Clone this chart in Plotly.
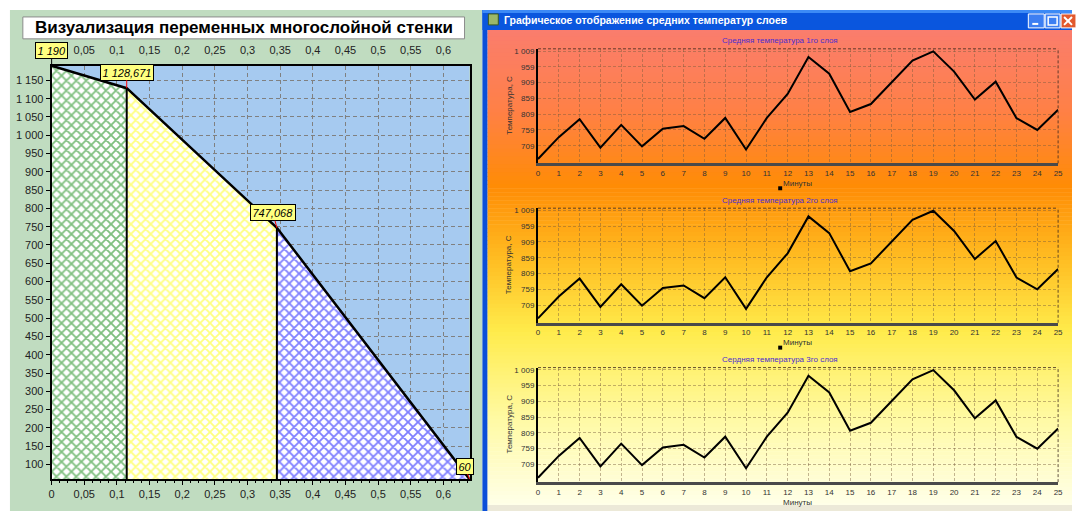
import plotly.graph_objects as go

W, H = 1077, 511


def fx(p):
    return p / W


def fy(p):
    return 1 - p / H


# ---- wall temperature profile ----
layer_bounds = [0.0, 0.115, 0.345, 0.64]
wall_temps = [1190, 1128.671, 747.068, 60]
wall_labels = ["1 190", "1 128,671", "747,068", "60"]
layer_hatch = ["#008000", "#FFFF00", "#0000FF"]
top_ticks = [0.05, 0.1, 0.15, 0.2, 0.25, 0.3, 0.35, 0.4, 0.45, 0.5, 0.55, 0.6]

# ---- average layer temperatures over time ----
minutes = list(range(26))
avg_temp_layer1 = [667, 736, 793, 703, 775, 707, 763, 771, 731, 797, 697, 797,
                   873, 990, 937, 816, 841, 910, 979, 1008, 944, 855, 912, 796, 759, 823]
avg_temp_layer2 = [667, 736, 793, 703, 775, 707, 763, 771, 731, 797, 697, 797,
                   873, 990, 937, 816, 841, 910, 979, 1008, 944, 855, 912, 796, 759, 823]
avg_temp_layer3 = [667, 736, 793, 703, 775, 707, 763, 771, 731, 797, 697, 797,
                   873, 990, 937, 816, 841, 910, 979, 1008, 944, 855, 912, 796, 759, 823]
temp_ticks = [709, 759, 809, 859, 909, 959, 1009]
chart_titles = ["Средняя температура 1го слоя",
                "Средняя температура 2го слоя",
                "Сердняя температура 3го слоя"]

FONT = "Arial, Liberation Sans, sans-serif"

fig = go.Figure()

# hatched layers under the profile
for i in range(3):
    fig.add_trace(go.Scatter(
        x=layer_bounds[i:i + 2], y=wall_temps[i:i + 2], mode="none",
        fill="tozeroy",
        fillpattern=dict(shape="x", fgcolor=layer_hatch[i], bgcolor="white",
                         size=7, solidity=0.45),
        xaxis="x", yaxis="y", hoverinfo="skip"))

# vertical layer interfaces
for b, t in zip(layer_bounds[1:-1], wall_temps[1:-1]):
    fig.add_trace(go.Scatter(x=[b, b], y=[wall_temps[-1], t], mode="lines",
                             line=dict(color="black", width=2),
                             xaxis="x", yaxis="y", hoverinfo="skip"))

# temperature profile line
fig.add_trace(go.Scatter(x=layer_bounds, y=wall_temps, mode="lines",
                         line=dict(color="black", width=2.5),
                         xaxis="x", yaxis="y", hoverinfo="skip"))

# anchor for the top axis
fig.add_trace(go.Scatter(x=[layer_bounds[0], layer_bounds[-1]], y=[None, None],
                         mode="markers", xaxis="x2", yaxis="y", showlegend=False,
                         hoverinfo="skip"))

series = [avg_temp_layer1, avg_temp_layer2, avg_temp_layer3]
for k, s in enumerate(series):
    n = k + 3
    fig.add_trace(go.Scatter(x=minutes, y=s, mode="lines",
                             line=dict(color="black", width=2),
                             xaxis=f"x{n}", yaxis=f"y{n}", hoverinfo="skip"))

tick_font = dict(family=FONT, size=11, color="#222222")
layout = dict(
    width=W, height=H, margin=dict(l=0, r=0, t=0, b=0),
    paper_bgcolor="white", plot_bgcolor="rgba(0,0,0,0)",
    showlegend=False, separators=", ",
    xaxis=dict(domain=[fx(49), fx(470)], range=[0, 0.64], tick0=0, dtick=0.05,
               showgrid=True, gridcolor="#808080", griddash="4px,3px",
               gridwidth=1,
               showline=True, linecolor="black", linewidth=2, mirror=True,
               ticks="outside", ticklen=4, tickcolor="black",
               minor=dict(dtick=0.0125, ticks="outside", ticklen=2,
                          tickcolor="black", showgrid=False),
               zeroline=False, tickfont=tick_font, anchor="y"),
    xaxis2=dict(overlaying="x", side="top", anchor="y", range=[0, 0.64],
                tickmode="array", tickvals=top_ticks, showgrid=False,
                showline=False, ticks="outside", ticklen=6,
                tickcolor="rgba(0,0,0,0)", zeroline=False, tickfont=tick_font),
    yaxis=dict(domain=[fy(479), fy(64)], range=[60, 1190], tick0=0, dtick=50,
               tickformat=",", showgrid=True, gridcolor="#808080",
               griddash="4px,3px", gridwidth=1, showline=True,
               linecolor="black",
               linewidth=2, mirror=True, ticks="outside", ticklen=4,
               tickcolor="black", zeroline=False, tickfont=tick_font,
               anchor="x"),
)

small_font = dict(family=FONT, size=8, color="#333333")
grid_col = "rgba(120,90,60,0.45)"
for k in range(3):
    n = k + 3
    top, bottom = 47 + 160 * k, 162 + 160 * k
    layout[f"xaxis{n}"] = dict(
        domain=[fx(539), fx(1063)], range=[0, 25], dtick=1, tick0=0,
        showgrid=True, gridcolor=grid_col, griddash="3px,2px",
        gridwidth=1, showline=True, linecolor="#4a4a4a", linewidth=3,
        ticks="", zeroline=False,
        tickfont=small_font, anchor=f"y{n}")
    layout[f"yaxis{n}"] = dict(
        domain=[fy(bottom), fy(top)], range=[653, 1016], tickmode="array",
        tickvals=temp_ticks, tickformat=",", showgrid=True,
        gridcolor=grid_col, griddash="3px,2px", gridwidth=1,
        showline=True, linecolor="black", linewidth=2, ticks="",
        zeroline=False, tickfont=small_font, anchor=f"x{n}")

fig.update_layout(**layout)

shapes = []


def rect(x0, y0, x1, y1, fill, line=None, lw=0, layer="below"):
    shapes.append(dict(type="rect", xref="paper", yref="paper",
                       x0=fx(x0), x1=fx(x1), y0=fy(y1), y1=fy(y0),
                       fillcolor=fill, layer=layer,
                       line=dict(color=line or fill, width=lw)))


# green panel and title box
rect(7, 8, 483, 511, "#C0DCC0")
rect(20, 15, 465, 37, "white", "#8c8c8c", 1)

# plot area of the wall chart
shapes.append(dict(type="rect", xref="x domain", yref="y domain", x0=0, x1=1,
                   y0=0, y1=1, fillcolor="#A6CAF0", line=dict(width=0),
                   layer="below"))

# window client area gradient
stops = [(27, (250, 125, 110)), (110, (255, 128, 70)), (185, (255, 140, 5)),
         (260, (255, 190, 35)), (330, (255, 235, 75)), (420, (255, 250, 165)),
         (505, (255, 255, 232))]
y = 27
step = 4
while y < 505:
    yc = y + step / 2
    for (ya, ca), (yb, cb) in zip(stops[:-1], stops[1:]):
        if ya <= yc <= yb:
            t = (yc - ya) / (yb - ya)
            c = tuple(int(round(a + (b - a) * t)) for a, b in zip(ca, cb))
            break
    rect(488, y, 1077, min(y + step + 0.6, 505), "rgb(%d,%d,%d)" % c)
    y += step
rect(488, 505, 1077, 511, "#ECE9D8")

# window frame and title bar
rect(483, 8, 488, 511, "#0B4FD8")
rect(483, 8, 1077, 28, "#0A56DE")
rect(483, 8, 1077, 11, "#3C8AF6")
rect(489, 12, 499, 23, "#9BB86A", "#3a5a20", 1)
rect(1033, 12, 1049, 26, "#3D7FF2", "white", 1, "above")
rect(1050, 12, 1065, 26, "#3D7FF2", "white", 1, "above")
rect(1066, 12, 1081, 26, "#E2592E", "white", 1, "above")
shapes.append(dict(type="line", xref="paper", yref="paper", x0=fx(1037),
                   x1=fx(1043), y0=fy(22), y1=fy(22),
                   line=dict(color="white", width=2)))
shapes.append(dict(type="rect", xref="paper", yref="paper", x0=fx(1053),
                   x1=fx(1062), y0=fy(23), y1=fy(15),
                   line=dict(color="white", width=1.5)))
shapes.append(dict(type="line", xref="paper", yref="paper", x0=fx(1069),
                   x1=fx(1077), y0=fy(15), y1=fy(23),
                   line=dict(color="white", width=2)))
shapes.append(dict(type="line", xref="paper", yref="paper", x0=fx(1069),
                   x1=fx(1077), y0=fy(23), y1=fy(15),
                   line=dict(color="white", width=2)))

# dashed top/right frame of each time chart
for k in range(3):
    n = k + 3
    for x0, x1, y0, y1 in [(0, 1, 1, 1), (1, 1, 0, 1)]:
        shapes.append(dict(type="line", xref=f"x{n} domain",
                           yref=f"y{n} domain", x0=x0, x1=x1, y0=y0, y1=y1,
                           line=dict(color="rgba(60,40,30,0.8)", width=1,
                                     dash="3px,2px")))
    if k < 2:
        rect(781, 185 + 160 * k, 785, 189 + 160 * k, "black", layer="above")

fig.update_layout(shapes=shapes)


def label(px_x, px_y, text, size, color, **kw):
    d = dict(xref="paper", yref="paper", x=fx(px_x), y=fy(px_y), text=text,
             showarrow=False, xanchor="center", yanchor="middle",
             font=dict(family=FONT, size=size, color=color))
    d.update(kw)
    return d


ann = [label(243, 26, "<b>Визуализация переменных многослойной стенки</b>",
             17, "black")]

offsets = [(0, -15), (0, -16), (-4, -15), (-5, -13)]
for i, (b, t, lab) in enumerate(zip(layer_bounds, wall_temps, wall_labels)):
    ax, ay = offsets[i]
    ann.append(dict(xref="x", yref="y", x=b, y=t, text=f"<i>{lab}</i>",
                    showarrow=True, arrowhead=0, arrowwidth=1,
                    arrowcolor="black" if i == 0 else "red", ax=ax, ay=ay,
                    bgcolor="#FFFF80", bordercolor="black", borderwidth=1,
                    borderpad=1.5,
                    font=dict(family=FONT, size=11, color="black")))

ann.append(label(503, 18.5,
                 "<b>Графическое отображение средних температур слоев</b>",
                 10.5, "white", xanchor="left"))

for k in range(3):
    ann.append(label(783, 39 + 160 * k, chart_titles[k], 8, "#4B2ECF"))
    ann.append(label(800, 182 + 160 * k, "Минуты", 8, "#333333"))
    ann.append(label(510, 104 + 160 * k, "Температура, С", 8, "#333333",
                     textangle=-90))

fig.update_layout(annotations=ann)

fig.write_html("out.html")
